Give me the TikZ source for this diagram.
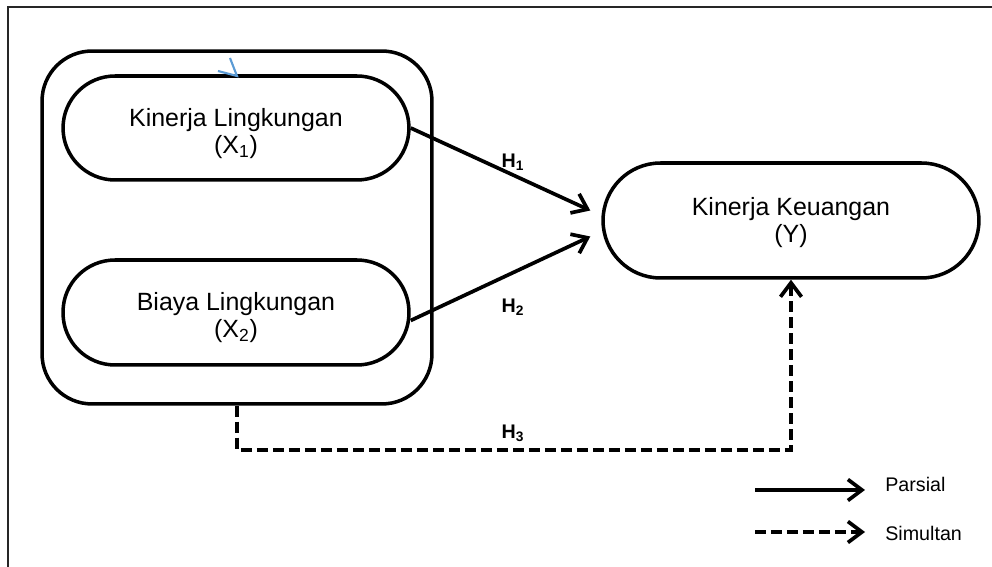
\documentclass[tikz,border=0pt]{standalone}
\usepackage{fontspec}
\setmainfont{Liberation Sans}
\usetikzlibrary{arrows.meta,calc}
\definecolor{markblue}{RGB}{91,155,213}

\tikzset{
  variabel/.style={draw, line width=2pt, rounded corners=1.04cm,
    minimum width=6.92cm, minimum height=2.08cm},
  teks/.style={align=center, inner sep=0pt, font=\fontsize{14.2}{15.4}\selectfont},
  parsial/.style={line width=2.1pt, -{Straight Barb[length=0.28cm, width=0.42cm]}},
  simultan/.style={parsial, dash pattern=on 0.22cm off 0.1cm},
  hlabel/.style={font=\fontsize{11.2}{13}\selectfont\bfseries, inner sep=0pt},
  legend/.style={font=\fontsize{11.2}{13}\selectfont, inner sep=0pt, anchor=west}
}

\begin{document}
\begin{tikzpicture}[x=0.02cm, y=-0.02cm]
        \useasboundingbox (0,0) rectangle (992,567);
        \draw [black!85, line width=1.1pt] (992,7) -- (8,7) -- (8,567);

        % kotak variabel
        \node [draw, line width=2pt, rounded corners=1cm, minimum width=7.8cm, minimum height=7.06cm] (grup) at (237,227.5) {};
        \node [variabel] (kl) at (236,128) {};
        \node [teks] (klteks) at (236,134) {Kinerja Lingkungan\\(X\textsubscript{1})};
        \node [variabel, minimum height=2.1cm] (bl) at (236,312.5) {};
        \node [teks] (blteks) at (236,318) {Biaya Lingkungan\\(X\textsubscript{2})};
        \node [variabel, minimum width=7.52cm, minimum height=2.3cm, rounded corners=1.15cm] (kk) at (791,220.5) {};
        \node [teks] (kkteks) at (791,223) {Kinerja Keuangan\\(Y)};

        % hipotesis
        \draw [parsial] (kl.east) -- ($(kk.west)+(-11,-10)$);
        \draw [parsial] ($(bl.east)+(0,8)$) -- ($(kk.west)+(-11,16)$);
        \draw [simultan] (grup.south) -- ++(0,44) -| (kk.south);
        \node [hlabel] (h1) at (513,162) {H\textsubscript{1}};
        \node [hlabel] (h2) at (513,307) {H\textsubscript{2}};
        \node [hlabel] (h3) at (513,433) {H\textsubscript{3}};

        % keterangan
        \coordinate (pa) at (755,490);
        \coordinate (pb) at (865,490);
        \draw [parsial] (pa) -- (pb);
        \node [legend] (lp) at (885,484) {Parsial};
        \coordinate (sa) at (755,532);
        \coordinate (sb) at (865,532);
        \draw [simultan] (sa) -- (sb);
        \node [legend] (ls) at (885,533) {Simultan};

        \draw [markblue, line width=1.2pt] (218,71) -- (237,76) -- (230,58);
\end{tikzpicture}
\end{document}
